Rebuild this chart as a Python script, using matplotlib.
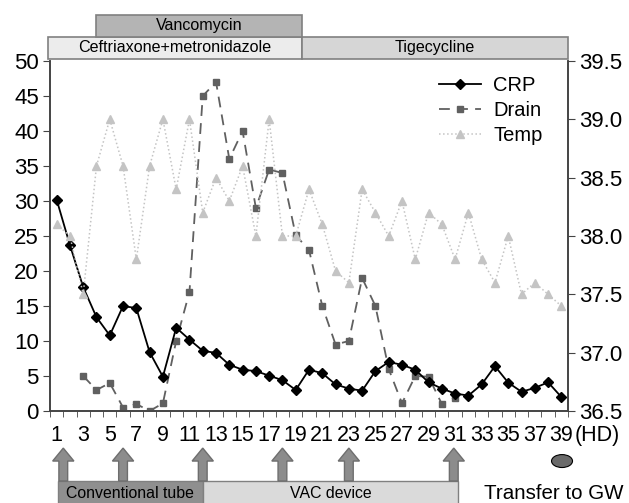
import matplotlib

matplotlib.use("Agg")
import matplotlib.pyplot as plt
import numpy as np
from matplotlib.patches import Ellipse, Polygon, Rectangle
from matplotlib.transforms import blended_transform_factory

plt.rcParams["font.family"] = ["Liberation Sans", "DejaVu Sans"]

# hospital day values
days = np.arange(1, 40)
crp = [30.2, 23.7, 17.7, 13.4, 10.8, 15.0, 14.7, 8.4, 4.9, 11.9,
       10.2, 8.6, 8.3, 6.6, 5.9, 5.7, 5.05, 4.4, 3.0, 5.9,
       5.4, 3.8, 3.2, 2.9, 5.7, 7.0, 6.6, 5.9, 4.1, 3.2,
       2.5, 2.2, 3.8, 6.4, 4.05, 2.75, 3.3, 4.1, 2.0]
drain_days = np.arange(3, 32)
drain = [5.0, 3.0, 4.0, 0.5, 1.0, 0.0, 1.1, 10.0, 17.0, 45.0,
         47.0, 36.0, 40.0, 29.0, 34.5, 34.0, 25.1, 23.0, 15.0, 9.5,
         10.0, 19.0, 15.0, 6.0, 1.1, 5.0, 4.9, 1.0, 1.9]
temp = [38.1, 38.0, 37.5, 38.6, 39.0, 38.6, 37.8, 38.6, 39.0, 38.4,
        39.0, 38.2, 38.5, 38.3, 38.6, 38.0, 39.0, 38.0, 38.0, 38.4,
        38.1, 37.7, 37.6, 38.4, 38.2, 38.0, 38.3, 37.8, 38.2, 38.1,
        37.8, 38.2, 37.8, 37.6, 38.0, 37.5, 37.6, 37.5, 37.4]

# antibiotic periods (start day, end day) and drainage periods
antibiotics = ["Ceftriaxone+metronidazole", "Tigecycline", "Vancomycin"]
abx_start = [0.35, 19.5, 4.0]
abx_end = [19.5, 39.5, 19.5]
drainage = ["Conventional tube", "VAC device"]
drain_start = [1.1, 12.0]
drain_end = [12.0, 31.25]
change_days = [1.5, 6.0, 12.0, 18.0, 23.0, 30.9]
transfer_day = 39.05

fig = plt.figure(figsize=(6.29, 5.03), dpi=100)
ax = fig.add_axes([50 / 629, 1 - 411 / 503, 518 / 629, 350 / 503])
ax2 = ax.twinx()

l_crp, = ax.plot(days, crp, color="black", lw=1.3, marker="D", ms=5.2,
                 label="CRP", zorder=4)
l_drain, = ax.plot(drain_days, drain, color="#606060", lw=1.3, ls=(0, (6, 4)),
                   marker="s", ms=5, label="Drain", zorder=3)
l_temp, = ax2.plot(days, temp, color="#c4c4c4", lw=1.1, ls=":", marker="^",
                   ms=6, label="Temp")

ax.set_xlim(0.5, 39.5)
ax.set_ylim(0, 50)
ax2.set_ylim(36.5, 39.5)
ax.set_yticks(np.arange(0, 51, 5))
ax2.set_yticks(np.arange(36.5, 39.6, 0.5))
ax2.set_yticklabels([f"{v:.1f}" for v in np.arange(36.5, 39.6, 0.5)])
ax.set_xticks(np.arange(1, 40, 2))
ax.set_xticks(np.arange(0.5, 40, 1), minor=True)

for a in (ax, ax2):
    a.spines["top"].set_visible(False)
    for s in a.spines.values():
        s.set_color("#444444")
        s.set_linewidth(1.2)
ax.tick_params(axis="x", which="major", length=0, pad=10, labelsize=15.5)
ax.tick_params(axis="x", which="minor", length=4, direction="out", color="#444444")
for lab in ax.get_xticklabels():
    lab.set_family(["Liberation Sans Narrow", "Liberation Sans"])
ax.tick_params(axis="y", length=5, labelsize=16, pad=3, color="#444444")
ax2.tick_params(axis="y", length=5, labelsize=16, pad=3, color="#444444")

ax2.legend(handles=[l_crp, l_drain, l_temp], loc="upper left",
           bbox_to_anchor=(439 / 629, 1 - 76 / 503), bbox_transform=fig.transFigure,
           frameon=False, fontsize=14.5, handlelength=2.1, handletextpad=0.6,
           labelspacing=0.3, borderpad=0, borderaxespad=0)

trans = blended_transform_factory(ax.transData, ax.transAxes)
ax.text(41.7, -0.07, "(HD)", transform=trans, ha="center", va="center",
        fontsize=15.5)

# antibiotic bars above the plot
abx_y = [1.006, 1.006, 1.069]
abx_h = 0.063
abx_colors = ["#ececec", "#d6d6d6", "#b4b4b4"]
for name, x0, x1, y0, c in zip(antibiotics, abx_start, abx_end, abx_y, abx_colors):
    ax.add_patch(Rectangle((x0, y0), x1 - x0, abx_h, transform=trans,
                           facecolor=c, edgecolor="#808080", lw=1.2, clip_on=False))
    ax.text((x0 + x1) / 2, y0 + abx_h / 2, name, transform=trans, ha="center",
            va="center", fontsize=11.6)

# drainage bars below the axis
bar_colors = ["#8f8f8f", "#dadada"]
for name, x0, x1, c in zip(drainage, drain_start, drain_end, bar_colors):
    ax.add_patch(Rectangle((x0, -0.3), x1 - x0, 0.1, transform=trans,
                           facecolor=c, edgecolor="#808080", lw=1.0, clip_on=False))
    ax.text((x0 + x1) / 2, -0.236, name, transform=trans, ha="center",
            va="center", fontsize=11.4)

# arrows marking drainage changes
shaft, head = 0.33, 0.8
y_tip, y_head, y_base = -0.106, -0.143, -0.2
for d in change_days:
    pts = [(d, y_tip), (d + head, y_head), (d + shaft, y_head), (d + shaft, y_base),
           (d - shaft, y_base), (d - shaft, y_head), (d - head, y_head)]
    ax.add_patch(Polygon(pts, closed=True, transform=trans, facecolor="#8c8c8c",
                         edgecolor="#6e6e6e", lw=1.0, clip_on=False))

ax.add_patch(Ellipse((transfer_day, -0.143), 1.58, 0.037, transform=trans,
                     facecolor="#6a6a6a", edgecolor="black", lw=0.8, clip_on=False))
ax.text(38.4, -0.236, "Transfer to GW", transform=trans, ha="center",
        va="center", fontsize=14.8)

fig.savefig("out.png", dpi=100)
